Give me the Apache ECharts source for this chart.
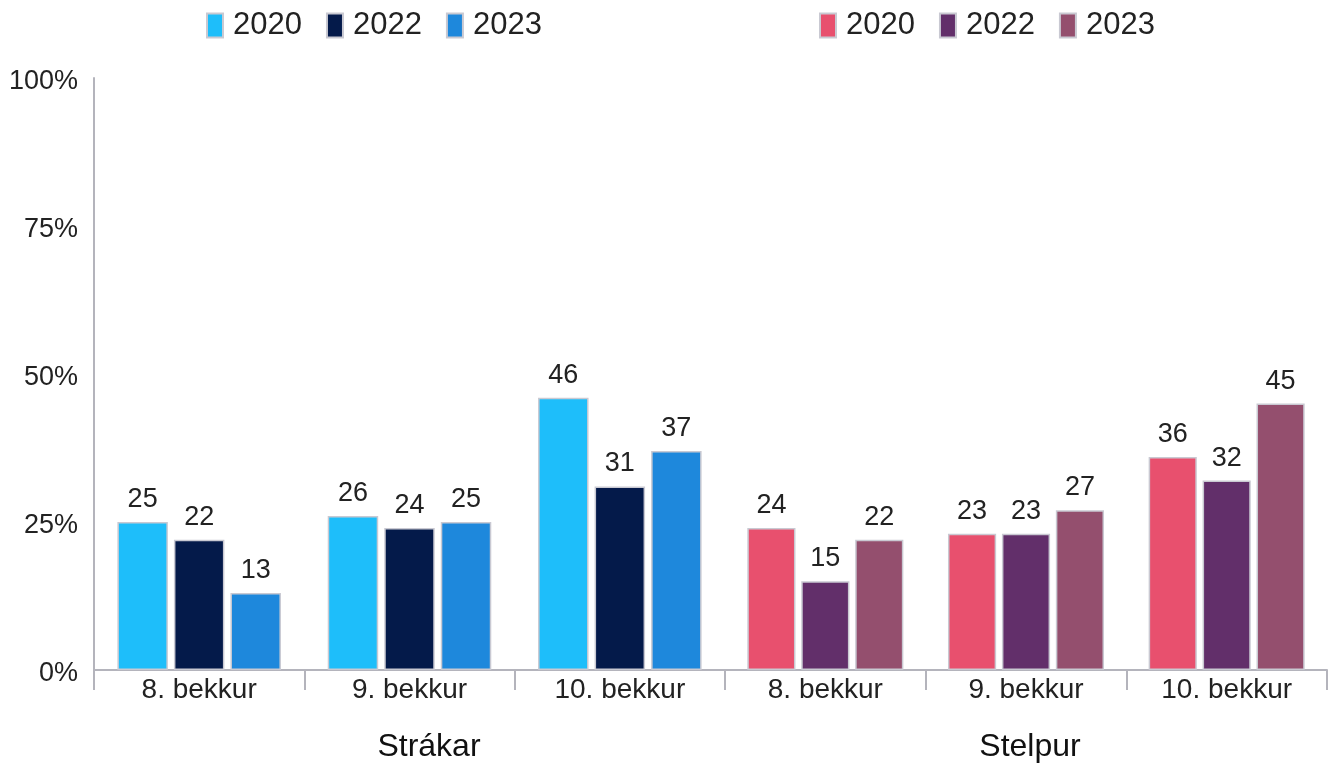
<!DOCTYPE html>
<html>
<head>
<meta charset="utf-8">
<script src="https://cdn.jsdelivr.net/npm/echarts@6/dist/echarts.min.js"></script>
<style>
  html, body { margin: 0; padding: 0; background: #fff; }
  #chart { width: 1340px; height: 763px; }
</style>
</head>
<body>
<div id="chart"></div>
<script>
// flokkar og hópar
const grades = ['8. bekkur', '9. bekkur', '10. bekkur'];
const groups = ['Strákar', 'Stelpur'];
const years = ['2020', '2022', '2023'];

// gildi (%)
const boys2020 = [25, 26, 46];
const boys2022 = [22, 24, 31];
const boys2023 = [13, 25, 37];
const girls2020 = [24, 23, 36];
const girls2022 = [15, 23, 32];
const girls2023 = [22, 27, 45];

const boysColors = ['#1ebefa', '#041a4a', '#1e88dc'];
const girlsColors = ['#e8506e', '#622f6a', '#944f6e'];

const font = 'Liberation Sans, Arial, sans-serif';
const axisGrey = '#b4b4bc';

function makeSeries(group, year, values, color, gridIndex) {
    return {
        name: group + ' ' + year,
        type: 'bar',
        xAxisIndex: gridIndex * 2,
        yAxisIndex: gridIndex,
        barWidth: '24%',
        barGap: '12%',
        data: values,
        itemStyle: { color: color, borderColor: '#c9c9d2', borderWidth: 1.5 },
        label: {
            show: true,
            position: 'top',
            distance: 9,
            fontSize: 27,
            color: '#222',
            fontFamily: font
        }
    };
}

const series = [];
[boys2020, boys2022, boys2023].forEach((v, i) => series.push(makeSeries(groups[0], years[i], v, boysColors[i], 0)));
[girls2020, girls2022, girls2023].forEach((v, i) => series.push(makeSeries(groups[1], years[i], v, girlsColors[i], 1)));

const legendBase = {
    top: 5,
    itemWidth: 16,
    itemHeight: 24,
    itemGap: 24,
    icon: 'rect',
    formatter: name => name.split(' ')[1],
    textStyle: { fontSize: 31, lineHeight: 24, color: '#222', fontFamily: font, padding: [0, 0, 0, 5] }
};

function gradeAxis(gridIndex) {
    return {
        type: 'category',
        gridIndex: gridIndex,
        data: grades,
        axisLine: { lineStyle: { color: axisGrey, width: 2 } },
        axisTick: { show: true, length: 20, lineStyle: { color: axisGrey, width: 2 } },
        axisLabel: { fontSize: 28, color: '#222', margin: 6 }
    };
}

function groupAxis(gridIndex, shift) {
    return {
        type: 'category',
        gridIndex: gridIndex,
        position: 'bottom',
        offset: 58,
        data: [groups[gridIndex]],
        axisLine: { show: false },
        axisTick: { show: false },
        axisLabel: {
            fontSize: 32,
            color: '#111',
            margin: 3,
            formatter: v => '{t|' + v + '}',
            rich: { t: { fontSize: 32, color: '#111', padding: [0, 0, 0, shift] } }
        }
    };
}

const chart = echarts.init(document.getElementById('chart'));
chart.setOption({
    animation: false,
    textStyle: { fontFamily: font },
    legend: [
        Object.assign({}, legendBase, { left: 201, data: years.map(y => groups[0] + ' ' + y) }),
        Object.assign({}, legendBase, { left: 814, data: years.map(y => groups[1] + ' ' + y) })
    ],
    grid: [
        { left: 94, width: 631, top: 78, bottom: 93 },
        { left: 725, right: 13, top: 78, bottom: 93 }
    ],
    xAxis: [gradeAxis(0), groupAxis(0, 39), gradeAxis(1), groupAxis(1, 8)],
    yAxis: [
        {
            type: 'value',
            gridIndex: 0,
            min: 0,
            max: 100,
            interval: 25,
            axisLine: { show: true, lineStyle: { color: axisGrey, width: 2 } },
            axisTick: { show: false },
            splitLine: { show: false },
            axisLabel: {
                formatter: v => '{p|' + v + '%}',
                margin: 16,
                rich: { p: { fontSize: 27, color: '#222', padding: [8, 0, 0, 0] } }
            }
        },
        {
            type: 'value',
            gridIndex: 1,
            min: 0,
            max: 100,
            interval: 25,
            axisLine: { show: false },
            axisTick: { show: false },
            splitLine: { show: false },
            axisLabel: { show: false }
        }
    ],
    series: series
});

window.addEventListener('resize', function () {
    chart.resize();
});
</script>
</body>
</html>
